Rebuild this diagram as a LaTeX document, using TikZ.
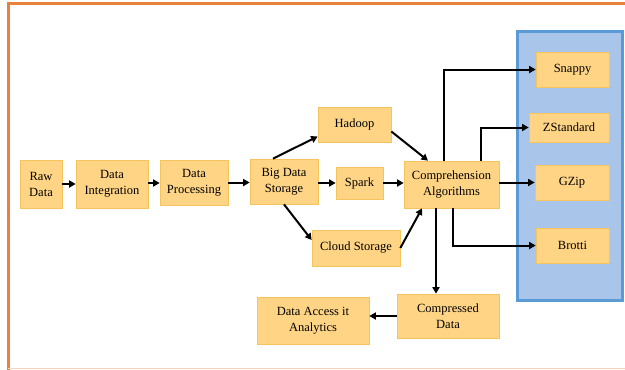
\documentclass[tikz,border=0pt]{standalone}
\usepackage{fontspec}
\setmainfont{Liberation Serif}
\newfontfamily\tnr{Liberation Serif}
\usetikzlibrary{arrows.meta}
\definecolor{boxfill}{HTML}{FFD585}
\definecolor{boxedge}{HTML}{F6C45C}
\definecolor{bluefill}{HTML}{A9C6EA}
\definecolor{blueedge}{HTML}{5B9BD5}
\definecolor{frameor}{HTML}{E8823A}
\tikzset{
  box/.style={draw=boxedge, fill=boxfill, line width=0.7pt, align=center,
    font=\tnr\fontsize{12.5}{16}\selectfont, inner sep=0pt},
  arr/.style={draw=black, line width=2pt, -{Triangle[length=6.5pt,width=7pt]}},
}
\begin{document}
\begin{tikzpicture}[x=1pt,y=-1pt]
\useasboundingbox (0,0) rectangle (625,370);
% frame
\fill[white] (0,0) rectangle (625,370);
\draw[frameor, line width=3pt] (8,371) -- (8,3.5) -- (626,3.5);
\draw[frameor!35, line width=1pt] (8,368.5) -- (626,368.5);
% blue panel
\node[draw=blueedge, fill=bluefill, line width=3pt, minimum width=105pt, minimum height=269pt, inner sep=0pt] (panel) at (569.5,165.5) {};
% nodes
\node[box, minimum width=42pt, minimum height=48pt] (raw) at (41,184) {Raw\\Data};
\node[box, minimum width=72pt, minimum height=48pt] (integ) at (112,184) {Data\\Integration};
\node[box, minimum width=68pt, minimum height=45pt] (proc) at (194,182.5) {Data\\Processing};
\node[box, minimum width=68pt, minimum height=45pt] (bds) at (284,181.5) {Big Data\\Storage};
\node[box, minimum width=73pt, minimum height=35pt] (hadoop) at (354.5,124.5) {Hadoop};
\node[box, minimum width=47pt, minimum height=32pt] (spark) at (359.5,183) {Spark};
\node[box, minimum width=88pt, minimum height=36pt] (cloud) at (356,248) {Cloud Storage};
\node[box, minimum width=95pt, minimum height=47pt] (comp) at (451.5,184.5) {Comprehension\\Algorithms};
\node[box, minimum width=73pt, minimum height=35pt] (snappy) at (572.5,69.5) {Snappy};
\node[box, minimum width=80pt, minimum height=29pt] (zstd) at (569,127.5) {ZStandard};
\node[box, minimum width=74pt, minimum height=35pt] (gzip) at (572,182.5) {GZip};
\node[box, minimum width=73pt, minimum height=35pt] (brotti) at (572.5,245.5) {Brotti};
\node[box, minimum width=102pt, minimum height=44pt] (compd) at (448,316) {Compressed\\Data};
\node[box, minimum width=112pt, minimum height=47pt] (access) at (313,320.5) {Data Access it\\Analytics};
% connectors
\draw[arr] (raw.east) -- (integ.west |- raw.east);
\draw[arr] ([yshift=1pt]integ.east) -- ([yshift=1pt]proc.west |- integ.east);
\draw[arr] (proc.east) -- (bds.west |- proc.east);
\draw[arr] ([xshift=-11pt]bds.north) -- ([yshift=-12pt]hadoop.west);
\draw[arr] (bds.east |- spark.west) -- (spark.west);
\draw[arr] (bds.south) -- ([yshift=8pt]cloud.west);
\draw[arr] ([yshift=-7pt]hadoop.east) -- ([xshift=-23.5pt]comp.north);
\draw[arr] (spark.east) -- (comp.west |- spark.east);
\draw[arr] (cloud.east) -- ([xshift=-29.5pt]comp.south);
\draw[arr] ([xshift=-7.5pt]comp.north) |- (snappy.west);
\draw[arr] ([xshift=29.5pt]comp.north) |- (zstd.west);
\draw[arr] (comp.east |- gzip.west) -- (gzip.west);
\draw[arr] ([xshift=1.5pt]comp.south) |- (brotti.west);
\coordinate (cd) at ([xshift=-15.5pt]comp.south);
\draw[arr] (cd) -- (cd |- compd.north);
\draw[arr] (compd.west) -- (compd.west -| access.east);
\end{tikzpicture}
\end{document}
